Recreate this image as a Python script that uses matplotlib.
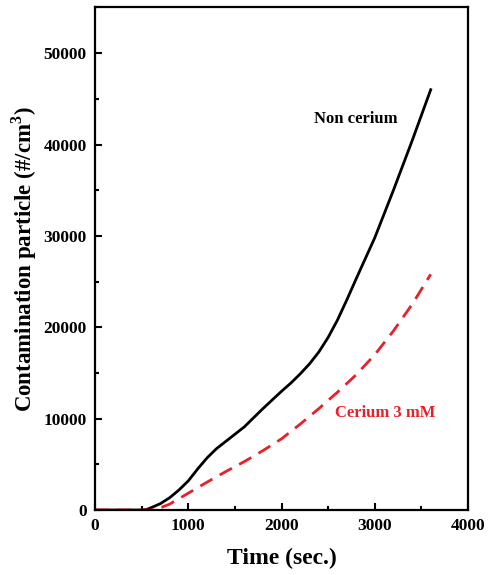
import matplotlib
matplotlib.use('Agg')
import matplotlib.pyplot as plt
from matplotlib.ticker import MultipleLocator

plt.rcParams['font.family'] = ['Liberation Serif', 'DejaVu Serif']
plt.rcParams['font.weight'] = 'bold'
plt.rcParams['mathtext.fontset'] = 'custom'
plt.rcParams['mathtext.rm'] = 'Liberation Serif:bold'
plt.rcParams['mathtext.bf'] = 'Liberation Serif:bold'

# time (sec.) and particle counts
t_non = [0, 500, 550, 600, 700, 800, 900, 1000, 1100, 1200, 1300, 1400, 1600,
         1800, 2000, 2100, 2200, 2300, 2400, 2500, 2600, 2700, 2800, 3000, 3200,
         3400, 3600]
non_cerium = [0, 0, 50, 250, 700, 1350, 2200, 3200, 4500, 5700, 6700, 7500,
              9100, 11100, 13000, 13900, 14900, 16000, 17300, 18900, 20800,
              23000, 25300, 29800, 35000, 40400, 46000]
t_ce = [0, 600, 700, 800, 900, 1000, 1200, 1400, 1600, 1800, 2000, 2200, 2400,
        2600, 2800, 3000, 3200, 3400, 3600]
cerium_3mM = [0, 0, 250, 650, 1250, 1850, 3050, 4200, 5300, 6500, 7800, 9400,
              11100, 12900, 14800, 17000, 19600, 22500, 25800]

red = '#e8202a'

fig = plt.figure(figsize=(4.88, 5.75), dpi=100)
ax = fig.add_axes([0.195, 0.113, 0.764, 0.874])

ax.plot(t_non, non_cerium, color='black', lw=2)
ax.plot(t_ce, cerium_3mM, color=red, lw=2, dashes=(5, 3))

ax.set_xlim(0, 4000)
ax.set_ylim(0, 55000)
ax.xaxis.set_major_locator(MultipleLocator(1000))
ax.xaxis.set_minor_locator(MultipleLocator(500))
ax.yaxis.set_major_locator(MultipleLocator(10000))
ax.yaxis.set_minor_locator(MultipleLocator(5000))
ax.tick_params(which='both', direction='in', width=1.5, labelsize=12.5)
ax.tick_params(which='major', length=5, pad=6)
ax.tick_params(which='minor', length=3)
for s in ax.spines.values():
    s.set_linewidth(1.6)

ax.set_xlabel('Time (sec.)', fontsize=17, fontweight='bold', labelpad=10)
ax.set_ylabel('Contamination particle (#/cm$^3$)', fontsize=16.5, fontweight='bold', labelpad=3)

ax.text(2800, 42800, 'Non cerium', fontsize=12, fontweight='bold', ha='center', va='center')
ax.text(3110, 10600, 'Cerium 3 mM', fontsize=12, fontweight='bold', color=red, ha='center', va='center')

fig.savefig('out.png', dpi=100)
